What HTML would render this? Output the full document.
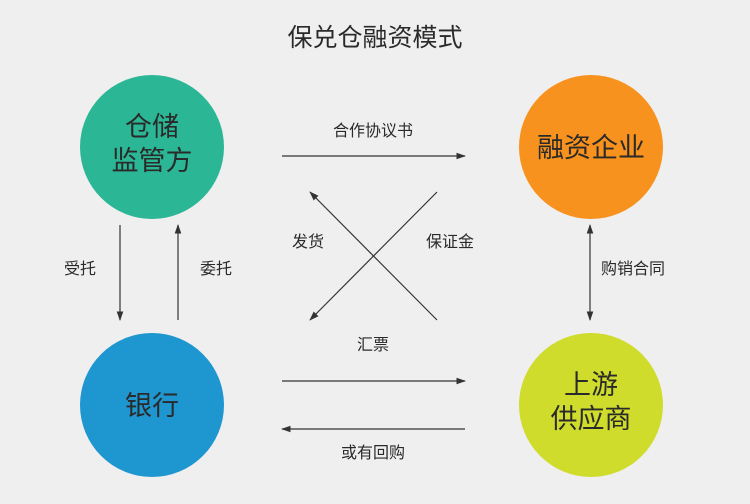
<!DOCTYPE html>
<html><head><meta charset="utf-8"><style>
html,body{margin:0;padding:0;background:#efefef;}
svg{display:block;}
text{font-family:"Liberation Sans","Noto Sans CJK SC",sans-serif;fill:#2a2a2a;}
</style></head><body>
<svg width="750" height="504" viewBox="0 0 750 504" xmlns="http://www.w3.org/2000/svg">
<defs>
<marker id="a" viewBox="0 0 10 10" refX="9" refY="5" markerWidth="8" markerHeight="8" orient="auto-start-reverse"><path d="M0,1.5 L10,5 L0,8.5 z" fill="#333"/></marker>
</defs>
<rect width="750" height="504" fill="#efefef"/>
<text x="375" y="46" font-size="25" text-anchor="middle">保兑仓融资模式</text>
<circle cx="152" cy="147" r="72" fill="#2bb795"/>
<circle cx="591" cy="147" r="72" fill="#f7921e"/>
<circle cx="152" cy="405" r="72" fill="#1e96cf"/>
<circle cx="591" cy="405" r="72" fill="#cfdc2c"/>
<g font-size="27" text-anchor="middle">
<text x="152" y="136">仓储</text><text x="152" y="170">监管方</text>
<text x="591" y="157">融资企业</text>
<text x="152" y="415">银行</text>
<text x="591" y="394">上游</text><text x="591" y="428">供应商</text>
</g>
<g stroke="#333" stroke-width="1.2" fill="none">
<line x1="282" y1="156" x2="465" y2="156" marker-end="url(#a)"/>
<line x1="437" y1="320" x2="310" y2="192" marker-end="url(#a)"/>
<line x1="437" y1="192" x2="310" y2="320" marker-end="url(#a)"/>
<line x1="120" y1="225" x2="120" y2="320" marker-end="url(#a)"/>
<line x1="178" y1="320" x2="178" y2="225" marker-end="url(#a)"/>
<line x1="282" y1="381" x2="465" y2="381" marker-end="url(#a)"/>
<line x1="465" y1="429" x2="282" y2="429" marker-end="url(#a)"/>
<line x1="590" y1="225" x2="590" y2="320" marker-start="url(#a)" marker-end="url(#a)"/>
</g>
<g font-size="16" text-anchor="middle">
<text x="373" y="136">合作协议书</text>
<text x="308" y="247">发货</text>
<text x="450" y="247">保证金</text>
<text x="80" y="274">受托</text>
<text x="216" y="274">委托</text>
<text x="633" y="274">购销合同</text>
<text x="373" y="350">汇票</text>
<text x="373" y="458">或有回购</text>
</g>
</svg>
</body></html>
